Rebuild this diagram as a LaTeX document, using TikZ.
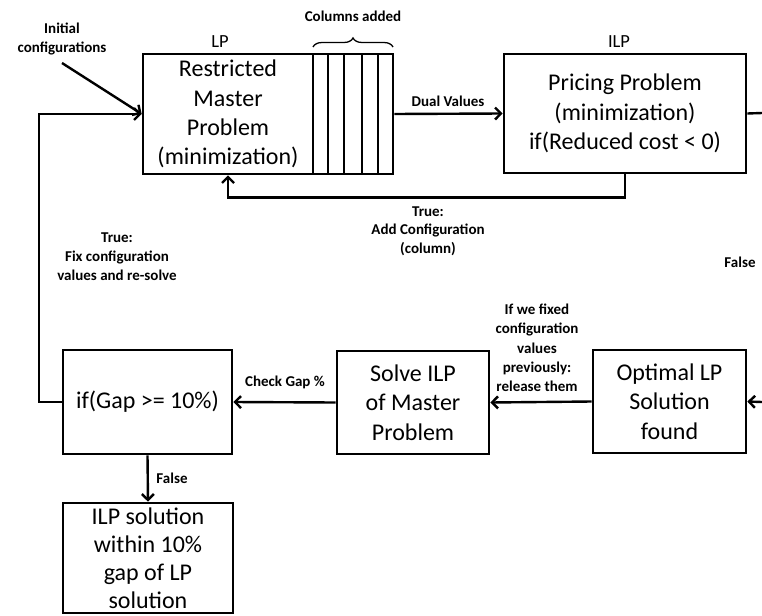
\documentclass[tikz,border=0pt]{standalone}
\usepackage{fontspec}
\setmainfont{Carlito}
\usetikzlibrary{arrows.meta,decorations.pathreplacing}
\begin{document}
\begin{tikzpicture}[x=1pt,y=-1pt,
  box/.style={draw,line width=2.6pt,inner sep=0pt,align=center,font=\fontsize{24}{29.3}\selectfont},
  lbl/.style={align=center,font=\fontsize{15}{18.5}\selectfont\bfseries},
  arr/.style={line width=2.4pt,-{Straight Barb[length=6pt,width=12pt,line width=2.4pt]}},
  ln/.style={line width=2.4pt}]
\useasboundingbox (0,0) rectangle (762,615);
% boxes
\node[box,minimum width=170pt,minimum height=120pt] (rmp) at (228,114) {Restricted\\Master\\Problem\\(minimization)};
\node[box,minimum width=80pt,minimum height=120pt] (cols) at (353,114) {};
\foreach \cx in {328,344,362,378} \draw[line width=2.4pt] (\cx,54) -- (\cx,174);
\node[box,minimum width=242pt,minimum height=119pt] (pricing) at (625,113.5) {Pricing Problem\\(minimization)\\if(Reduced cost {<} 0)};
\node[box,minimum width=153pt,minimum height=103pt] (opt) at (669.5,401.5) {Optimal LP\\Solution\\found};
\node[box,minimum width=152pt,minimum height=103pt] (solve) at (413,402.5) {Solve ILP\\of Master\\Problem};
\node[box,minimum width=169pt,minimum height=104pt] (gap) at (147.5,402) {if(Gap {>}= 10\%)};
\node[box,minimum width=170pt,minimum height=110pt,font=\fontsize{24}{28}\selectfont] (ilp) at (148,558) {ILP solution\\within 10\%\\gap of LP\\solution};
% labels
\node[font=\fontsize{18.5}{20}\selectfont] (lp) at (220,42) {LP};
\node[font=\fontsize{18.5}{20}\selectfont] (ilplbl) at (619,42) {ILP};
\node[lbl] (initlbl) at (62,39) {Initial\\configurations};
\node[lbl] (colslbl) at (353,16) {Columns added};
\node[lbl] (duallbl) at (448,101) {Dual Values};
\node[lbl] (addlbl) at (428,231) {True:\\Add Configuration\\(column)};
\node[lbl] (falselbl) at (740,262) {False};
\node[lbl,font=\fontsize{15}{19.3}\selectfont\bfseries] (fixedlbl) at (537,348) {If we fixed\\configuration\\values\\previously:\\release them};
\node[lbl] (checklbl) at (285,382) {Check Gap \%};
\node[lbl,font=\fontsize{15}{19}\selectfont\bfseries] (truelbl) at (117,257) {True:\\Fix configuration\\values and re-solve};
\node[lbl] (false2lbl) at (172,478) {False};
% brace
\draw[line width=1.3pt,decorate,decoration={brace,amplitude=9pt}] (313,47) -- (393,47);
% connectors
\coordinate (initc) at (62,63);
\coordinate (falseout) at (762,113);
\coordinate (falsein) at (762,402);
\draw[arr] (initc) -- (rmp.west);
\draw[arr] (gap.west) -- ++(-23,0) |- (rmp.west);
\draw[arr] (cols.east) -- (pricing.west);
\draw[arr] (pricing.south) -- ++(0,23) -| (rmp.south);
\draw[ln] (pricing.east) -- (falseout);
\draw[arr] (falsein) -- (opt.east);
\draw[arr] (opt.west) -- (solve.east);
\draw[arr] (solve.west) -- (gap.east);
\draw[arr] (gap.south) -- (ilp.north);
\end{tikzpicture}
\end{document}
